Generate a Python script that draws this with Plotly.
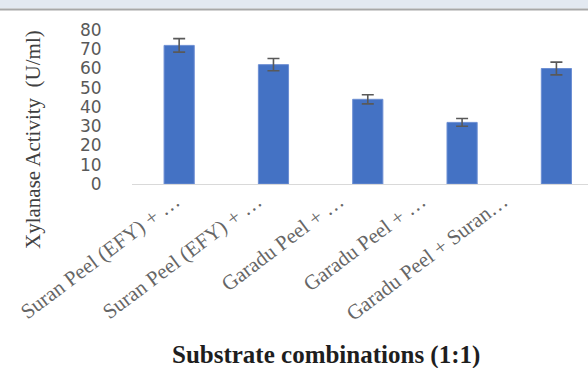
import plotly.graph_objects as go

# Substrate combinations (1:1) and measured xylanase activity
labels = [
    "Suran Peel (EFY) + …",
    "Suran Peel (EFY) + …",
    "Garadu Peel + …",
    "Garadu Peel + …",
    "Garadu Peel + Suran…",
]
activity = [72, 62, 44, 32, 60]        # U/ml
activity_sd = [3.5, 3.2, 2.4, 2.0, 3.3]
y_ticks = [0, 10, 20, 30, 40, 50, 60, 70, 80]

W, H = 588, 368
L, R, T, B = 132, 0, 30, 184
plot_w = W - L - R
plot_h = H - T - B


def px_x(px):
    return (px - L) / plot_w


def px_y(py):
    return (H - B - py) / plot_h


positions = list(range(len(labels)))

fig = go.Figure()
fig.add_trace(go.Bar(
    x=positions,
    y=activity,
    marker=dict(color="#4472c4", line=dict(color="#6d8fd3", width=1)),
    error_y=dict(type="data", array=activity_sd, visible=True,
                 color="#595959", thickness=1.6, width=6),
    hoverinfo="skip",
    showlegend=False,
))
# carrier trace for the category label axis
fig.add_trace(go.Scatter(
    x=positions, y=activity, xaxis="x2", mode="none",
    hoverinfo="skip", showlegend=False,
))

fig.update_layout(
    width=W, height=H,
    margin=dict(l=L, r=R, t=T, b=B, pad=0),
    paper_bgcolor="white",
    plot_bgcolor="rgba(0,0,0,0)",
    bargap=0.68,
    xaxis=dict(
        range=[-0.5, 4.335],
        showticklabels=False,
        showgrid=False,
        zeroline=False,
        showline=True,
        linecolor="#d9d9d9",
        linewidth=1,
        ticks="",
        fixedrange=True,
    ),
    xaxis2=dict(
        anchor="y",
        domain=[px_x(134), px_x(544)],
        range=[-0.5, 4.5],
        tickmode="array",
        tickvals=positions,
        ticktext=labels,
        tickangle=-37,
        tickfont=dict(family="Liberation Serif", size=21, color="#666666"),
        ticks="",
        showgrid=False,
        zeroline=False,
        showline=False,
    ),
    yaxis=dict(
        range=[0, 80],
        tickmode="array",
        tickvals=y_ticks,
        tickfont=dict(family="DejaVu Sans", size=17, color="#595959"),
        ticks="outside",
        ticklen=26,
        tickcolor="rgba(0,0,0,0)",
        showgrid=False,
        zeroline=False,
        showline=False,
        fixedrange=True,
    ),
    shapes=[
        dict(type="rect", xref="paper", yref="paper",
             x0=px_x(0), x1=px_x(W), y0=px_y(8.5), y1=px_y(-1),
             fillcolor="#e3e9f1", line=dict(width=0), layer="above"),
        dict(type="line", xref="paper", yref="paper",
             x0=px_x(0), x1=px_x(W), y0=px_y(9.5), y1=px_y(9.5),
             line=dict(color="#a8a8a8", width=2), layer="above"),
    ],
    annotations=[
        dict(text="Xylanase Activity  (U/ml)", textangle=-90,
             xref="paper", yref="paper", x=px_x(33), y=px_y(140),
             xanchor="center", yanchor="middle", showarrow=False,
             font=dict(family="Liberation Serif", size=21, color="#404040")),
        dict(text="<b>Substrate combinations (1:1)</b>",
             xref="paper", yref="paper", x=px_x(325.5), y=px_y(355),
             xanchor="center", yanchor="middle", showarrow=False,
             font=dict(family="Liberation Serif", size=25, color="#1e1e1e")),
    ],
)

fig.write_html("out.html")
